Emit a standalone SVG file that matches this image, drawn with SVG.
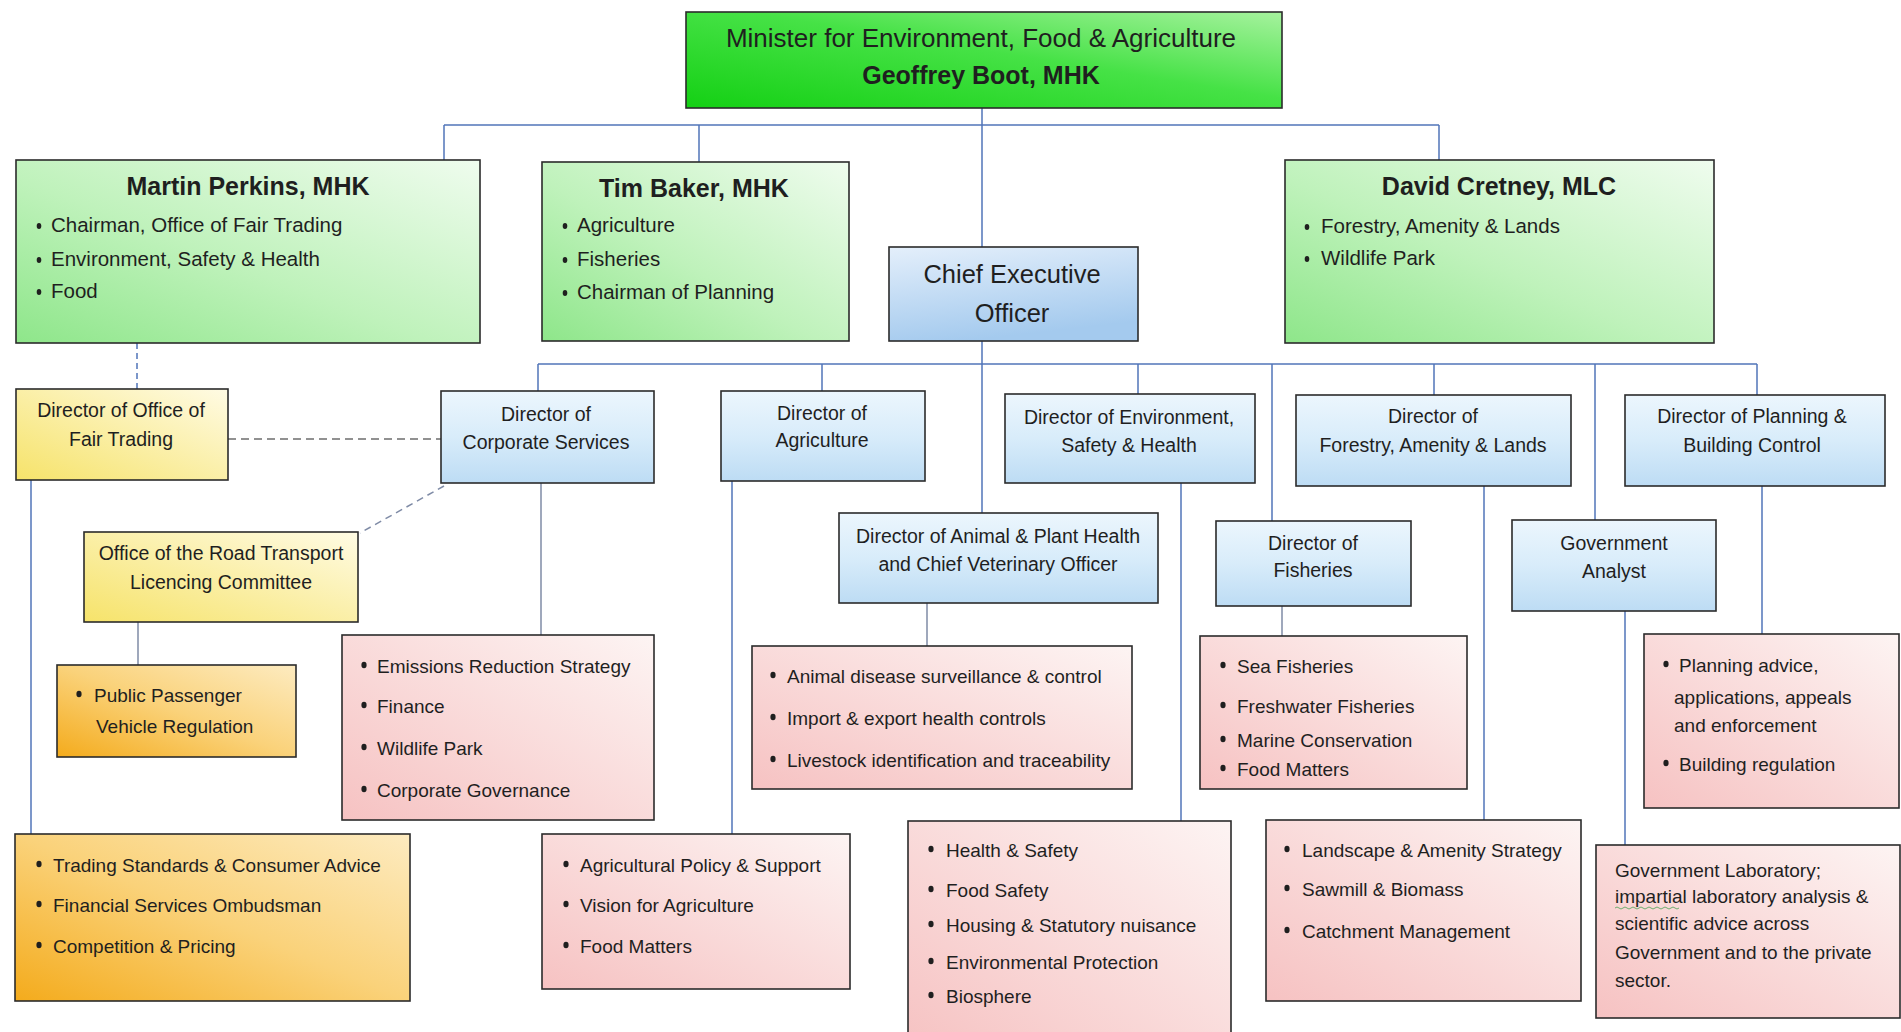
<svg xmlns="http://www.w3.org/2000/svg" width="1901" height="1032" viewBox="0 0 1901 1032">
<defs>
<linearGradient id="gMin" x1="0" y1="1" x2="1" y2="0"><stop offset="0" stop-color="#14d014"/><stop offset="0.55" stop-color="#46e246"/><stop offset="1" stop-color="#a6f29e"/></linearGradient>
<linearGradient id="gMem" x1="0" y1="1" x2="1" y2="0"><stop offset="0" stop-color="#8ee68a"/><stop offset="0.45" stop-color="#bff2bb"/><stop offset="1" stop-color="#effcee"/></linearGradient>
<linearGradient id="gCeo" x1="0" y1="0" x2="0.3" y2="1"><stop offset="0" stop-color="#e4effb"/><stop offset="1" stop-color="#a4caee"/></linearGradient>
<linearGradient id="gBlue" x1="0" y1="0" x2="0" y2="1"><stop offset="0" stop-color="#ecf6fd"/><stop offset="0.5" stop-color="#d8ecfa"/><stop offset="1" stop-color="#bddcf4"/></linearGradient>
<linearGradient id="gYel" x1="1" y1="0" x2="0" y2="1"><stop offset="0" stop-color="#fffbe4"/><stop offset="1" stop-color="#f6e36a"/></linearGradient>
<linearGradient id="gOra" x1="1" y1="0" x2="0" y2="1"><stop offset="0" stop-color="#fdebc0"/><stop offset="0.5" stop-color="#fad27a"/><stop offset="1" stop-color="#f4ab1c"/></linearGradient>
<linearGradient id="gPink" x1="1" y1="0" x2="0" y2="1"><stop offset="0" stop-color="#fdf4f3"/><stop offset="1" stop-color="#f6c2c2"/></linearGradient>
<style>
.box{stroke:#2b2b2b;stroke-width:1.6}
.t{font-family:"Liberation Sans",Arial,sans-serif;fill:#1f1f1f}
.c{text-anchor:middle}
.ttl{font-size:25px;font-weight:bold}
.mem{font-size:20.5px}
.dir{font-size:19.5px}
.lst{font-size:19px}
.conn line,.conn path{stroke:#5074b9;stroke-width:1.5;fill:none}
.conn .g{stroke:#7f8ba6}
.conn .d1{stroke-dasharray:6 4}
.conn .d2{stroke:#6e6e6e;stroke-dasharray:8 5}
.conn .d3{stroke:#7f8ba6;stroke-dasharray:7 5}
.b{fill:#1f1f1f}
</style>
</defs>
<rect width="1901" height="1032" fill="#ffffff"/>

<g id="connectors" class="conn">
<line x1="982" y1="108" x2="982" y2="513"/>
<line x1="444" y1="125" x2="1439" y2="125"/>
<line x1="444" y1="125" x2="444" y2="160"/>
<line x1="699" y1="125" x2="699" y2="162"/>
<line x1="1439" y1="125" x2="1439" y2="160"/>
<line x1="538" y1="364" x2="1757" y2="364"/>
<line x1="538" y1="364" x2="538" y2="391"/>
<line x1="822" y1="364" x2="822" y2="391"/>
<line x1="1138" y1="364" x2="1138" y2="394"/>
<line x1="1272" y1="364" x2="1272" y2="521"/>
<line x1="1434" y1="364" x2="1434" y2="395"/>
<line x1="1595" y1="364" x2="1595" y2="520"/>
<line x1="1757" y1="364" x2="1757" y2="395"/>
<line class="d1" x1="137" y1="343" x2="137" y2="389"/>
<line class="d2" x1="228" y1="439" x2="441" y2="439"/>
<line class="d3" x1="444" y1="486" x2="360" y2="533"/>
<line x1="31" y1="480" x2="31" y2="834"/>
<line class="g" x1="138" y1="622" x2="138" y2="665"/>
<line class="g" x1="541" y1="483" x2="541" y2="635"/>
<line x1="732" y1="481" x2="732" y2="834"/>
<line class="g" x1="927" y1="603" x2="927" y2="646"/>
<line x1="1181" y1="483" x2="1181" y2="821"/>
<line class="g" x1="1282" y1="606" x2="1282" y2="636"/>
<line x1="1484" y1="486" x2="1484" y2="820"/>
<line x1="1625" y1="611" x2="1625" y2="845"/>
<line x1="1762" y1="486" x2="1762" y2="634"/>
</g>

<g id="minister">
<rect class="box" x="686" y="12" width="596" height="96" fill="url(#gMin)"/>
<text class="t c" x="981" y="47" font-size="26">Minister for Environment, Food &amp; Agriculture</text>
<text class="t c ttl" x="981" y="84">Geoffrey Boot, MHK</text>
</g>

<g id="martin-perkins">
<rect class="box" x="16" y="160" width="464" height="183" fill="url(#gMem)"/>
<text class="t c ttl" x="248" y="195">Martin Perkins, MHK</text>
<ellipse class="b" cx="39" cy="226" rx="2.3" ry="2.9"/><text class="t mem" x="51" y="232">Chairman, Office of Fair Trading</text>
<ellipse class="b" cx="39" cy="260" rx="2.3" ry="2.9"/><text class="t mem" x="51" y="266">Environment,  Safety &amp; Health</text>
<ellipse class="b" cx="39" cy="292" rx="2.3" ry="2.9"/><text class="t mem" x="51" y="298">Food</text>
</g>

<g id="tim-baker">
<rect class="box" x="542" y="162" width="307" height="179" fill="url(#gMem)"/>
<text class="t c ttl" x="694" y="197">Tim Baker, MHK</text>
<ellipse class="b" cx="565" cy="226" rx="2.3" ry="2.9"/><text class="t mem" x="577" y="232">Agriculture</text>
<ellipse class="b" cx="565" cy="260" rx="2.3" ry="2.9"/><text class="t mem" x="577" y="266">Fisheries</text>
<ellipse class="b" cx="565" cy="293" rx="2.3" ry="2.9"/><text class="t mem" x="577" y="299">Chairman of Planning</text>
</g>

<g id="ceo">
<rect class="box" x="889" y="247" width="249" height="94" fill="url(#gCeo)"/>
<text class="t c" x="1012" y="283" font-size="25.5">Chief Executive</text>
<text class="t c" x="1012" y="322" font-size="25.5">Officer</text>
</g>

<g id="david-cretney">
<rect class="box" x="1285" y="160" width="429" height="183" fill="url(#gMem)"/>
<text class="t c ttl" x="1499" y="195">David Cretney, MLC</text>
<ellipse class="b" cx="1307" cy="227" rx="2.3" ry="2.9"/><text class="t mem" x="1321" y="233">Forestry, Amenity &amp; Lands</text>
<ellipse class="b" cx="1307" cy="259" rx="2.3" ry="2.9"/><text class="t mem" x="1321" y="265">Wildlife Park</text>
</g>

<g id="dir-fair-trading">
<rect class="box" x="16" y="389" width="212" height="91" fill="url(#gYel)"/>
<text class="t c dir" x="121" y="417">Director of Office of</text>
<text class="t c dir" x="121" y="446">Fair Trading</text>
</g>

<g id="dir-corporate-services">
<rect class="box" x="441" y="391" width="213" height="92" fill="url(#gBlue)"/>
<text class="t c dir" x="546" y="421">Director of</text>
<text class="t c dir" x="546" y="449">Corporate Services</text>
</g>

<g id="road-transport">
<rect class="box" x="84" y="532" width="274" height="90" fill="url(#gYel)"/>
<text class="t c dir" x="221" y="560">Office of the Road Transport</text>
<text class="t c dir" x="221" y="589">Licencing Committee</text>
</g>

<g id="public-passenger">
<rect class="box" x="57" y="665" width="239" height="92" fill="url(#gOra)"/>
<ellipse class="b" cx="79" cy="694" rx="2.6" ry="3.3"/>
<text class="t lst" x="94" y="702">Public Passenger</text>
<text class="t lst" x="96" y="733">Vehicle Regulation</text>
</g>

<g id="trading-standards">
<rect class="box" x="15" y="834" width="395" height="167" fill="url(#gOra)"/>
<ellipse class="b" cx="39" cy="864" rx="2.6" ry="3.3"/><text class="t lst" x="53" y="872">Trading Standards &amp; Consumer Advice</text>
<ellipse class="b" cx="39" cy="904" rx="2.6" ry="3.3"/><text class="t lst" x="53" y="912">Financial Services Ombudsman</text>
<ellipse class="b" cx="39" cy="945" rx="2.6" ry="3.3"/><text class="t lst" x="53" y="953">Competition &amp; Pricing</text>
</g>

<g id="corporate-list">
<rect class="box" x="342" y="635" width="312" height="185" fill="url(#gPink)"/>
<ellipse class="b" cx="364" cy="665" rx="2.6" ry="3.3"/><text class="t lst" x="377" y="673">Emissions Reduction Strategy</text>
<ellipse class="b" cx="364" cy="705" rx="2.6" ry="3.3"/><text class="t lst" x="377" y="713">Finance</text>
<ellipse class="b" cx="364" cy="747" rx="2.6" ry="3.3"/><text class="t lst" x="377" y="755">Wildlife Park</text>
<ellipse class="b" cx="364" cy="789" rx="2.6" ry="3.3"/><text class="t lst" x="377" y="797">Corporate Governance</text>
</g>

<g id="dir-agriculture">
<rect class="box" x="721" y="391" width="204" height="90" fill="url(#gBlue)"/>
<text class="t c dir" x="822" y="420">Director of</text>
<text class="t c dir" x="822" y="447">Agriculture</text>
</g>

<g id="agriculture-list">
<rect class="box" x="542" y="834" width="308" height="155" fill="url(#gPink)"/>
<ellipse class="b" cx="566" cy="864" rx="2.6" ry="3.3"/><text class="t lst" x="580" y="872">Agricultural Policy &amp; Support</text>
<ellipse class="b" cx="566" cy="904" rx="2.6" ry="3.3"/><text class="t lst" x="580" y="912">Vision for Agriculture</text>
<ellipse class="b" cx="566" cy="945" rx="2.6" ry="3.3"/><text class="t lst" x="580" y="953">Food Matters</text>
</g>

<g id="dir-animal-plant-health">
<rect class="box" x="839" y="513" width="319" height="90" fill="url(#gBlue)"/>
<text class="t c dir" x="998" y="543">Director of Animal &amp; Plant Health</text>
<text class="t c dir" x="998" y="571">and Chief Veterinary Officer</text>
</g>

<g id="animal-list">
<rect class="box" x="752" y="646" width="380" height="143" fill="url(#gPink)"/>
<ellipse class="b" cx="773" cy="675" rx="2.6" ry="3.3"/><text class="t lst" x="787" y="683">Animal disease surveillance &amp; control</text>
<ellipse class="b" cx="773" cy="717" rx="2.6" ry="3.3"/><text class="t lst" x="787" y="725">Import &amp; export health controls</text>
<ellipse class="b" cx="773" cy="759" rx="2.6" ry="3.3"/><text class="t lst" x="787" y="767">Livestock identification and traceability</text>
</g>

<g id="dir-environment">
<rect class="box" x="1005" y="394" width="250" height="89" fill="url(#gBlue)"/>
<text class="t c dir" x="1129" y="424">Director of Environment,</text>
<text class="t c dir" x="1129" y="452">Safety &amp; Health</text>
</g>

<g id="environment-list">
<rect class="box" x="908" y="821" width="323" height="230" fill="url(#gPink)"/>
<ellipse class="b" cx="931" cy="849" rx="2.6" ry="3.3"/><text class="t lst" x="946" y="857">Health &amp; Safety</text>
<ellipse class="b" cx="931" cy="889" rx="2.6" ry="3.3"/><text class="t lst" x="946" y="897">Food Safety</text>
<ellipse class="b" cx="931" cy="924" rx="2.6" ry="3.3"/><text class="t lst" x="946" y="932">Housing &amp; Statutory nuisance</text>
<ellipse class="b" cx="931" cy="961" rx="2.6" ry="3.3"/><text class="t lst" x="946" y="969">Environmental Protection</text>
<ellipse class="b" cx="931" cy="995" rx="2.6" ry="3.3"/><text class="t lst" x="946" y="1003">Biosphere</text>
</g>

<g id="dir-fisheries">
<rect class="box" x="1216" y="521" width="195" height="85" fill="url(#gBlue)"/>
<text class="t c dir" x="1313" y="550">Director of</text>
<text class="t c dir" x="1313" y="577">Fisheries</text>
</g>

<g id="fisheries-list">
<rect class="box" x="1200" y="636" width="267" height="153" fill="url(#gPink)"/>
<ellipse class="b" cx="1223" cy="665" rx="2.6" ry="3.3"/><text class="t lst" x="1237" y="673">Sea Fisheries</text>
<ellipse class="b" cx="1223" cy="705" rx="2.6" ry="3.3"/><text class="t lst" x="1237" y="713">Freshwater Fisheries</text>
<ellipse class="b" cx="1223" cy="739" rx="2.6" ry="3.3"/><text class="t lst" x="1237" y="747">Marine Conservation</text>
<ellipse class="b" cx="1223" cy="768" rx="2.6" ry="3.3"/><text class="t lst" x="1237" y="776">Food Matters</text>
</g>

<g id="dir-forestry">
<rect class="box" x="1296" y="395" width="275" height="91" fill="url(#gBlue)"/>
<text class="t c dir" x="1433" y="423">Director of</text>
<text class="t c dir" x="1433" y="452">Forestry, Amenity &amp; Lands</text>
</g>

<g id="forestry-list">
<rect class="box" x="1266" y="820" width="315" height="181" fill="url(#gPink)"/>
<ellipse class="b" cx="1287" cy="849" rx="2.6" ry="3.3"/><text class="t lst" x="1302" y="857">Landscape &amp; Amenity Strategy</text>
<ellipse class="b" cx="1287" cy="888" rx="2.6" ry="3.3"/><text class="t lst" x="1302" y="896">Sawmill &amp; Biomass</text>
<ellipse class="b" cx="1287" cy="930" rx="2.6" ry="3.3"/><text class="t lst" x="1302" y="938">Catchment Management</text>
</g>

<g id="government-analyst">
<rect class="box" x="1512" y="520" width="204" height="91" fill="url(#gBlue)"/>
<text class="t c dir" x="1614" y="550">Government</text>
<text class="t c dir" x="1614" y="578">Analyst</text>
</g>

<g id="government-laboratory">
<rect class="box" x="1596" y="845" width="304" height="173" fill="url(#gPink)"/>
<text class="t lst" x="1615" y="877">Government Laboratory;</text>
<text class="t lst" x="1615" y="903">impartial laboratory analysis &amp;</text>
<path d="M1615 908 q2 -2 4 0 t4 0 t4 0 t4 0 t4 0 t4 0 t4 0 t4 0 t4 0 t4 0 t4 0 t4 0 t4 0 t4 0 t4 0 t4 0" fill="none" stroke="#6fae6f" stroke-width="1"/>
<text class="t lst" x="1615" y="930">scientific advice across</text>
<text class="t lst" x="1615" y="959">Government and to the private</text>
<text class="t lst" x="1615" y="987">sector.</text>
</g>

<g id="dir-planning">
<rect class="box" x="1625" y="395" width="260" height="91" fill="url(#gBlue)"/>
<text class="t c dir" x="1752" y="423">Director of Planning &amp;</text>
<text class="t c dir" x="1752" y="452">Building Control</text>
</g>

<g id="planning-list">
<rect class="box" x="1644" y="634" width="255" height="174" fill="url(#gPink)"/>
<ellipse class="b" cx="1666" cy="664" rx="2.6" ry="3.3"/><text class="t lst" x="1679" y="672">Planning advice,</text>
<text class="t lst" x="1674" y="704">applications, appeals</text>
<text class="t lst" x="1674" y="732">and enforcement</text>
<ellipse class="b" cx="1666" cy="763" rx="2.6" ry="3.3"/><text class="t lst" x="1679" y="771">Building regulation</text>
</g>
</svg>
